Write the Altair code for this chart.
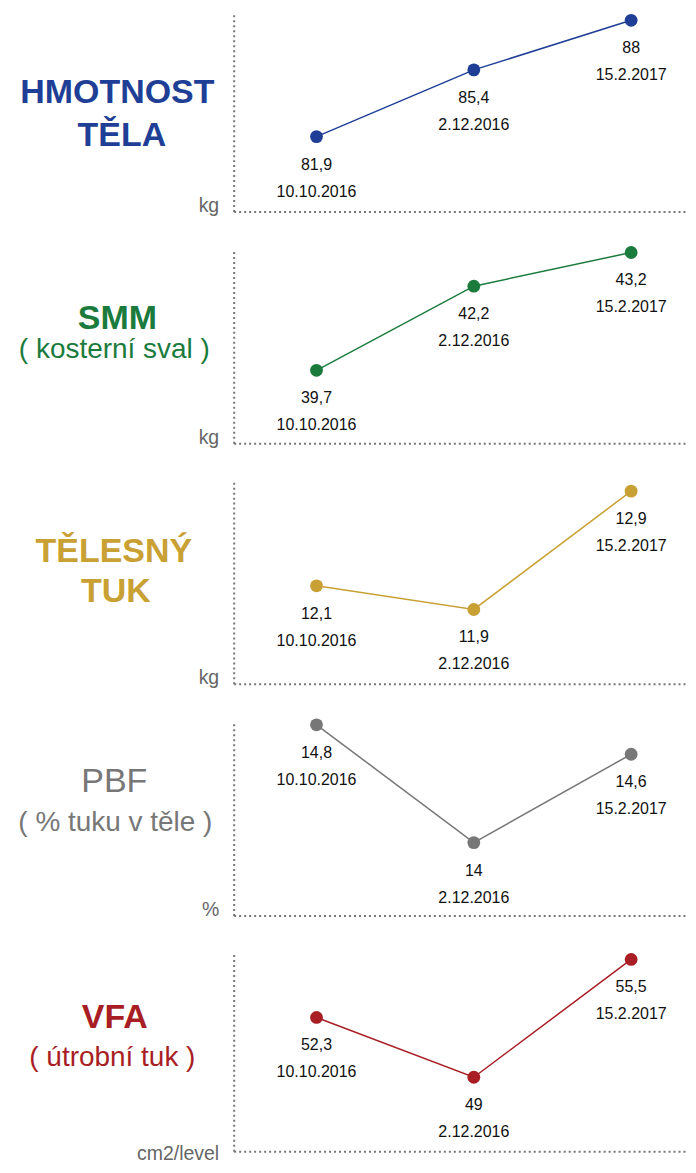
import altair as alt
import pandas as pd

# ---------------- data ----------------
dates = ["10.10.2016", "2.12.2016", "15.2.2017"]
hmotnost = [81.9, 85.4, 88.0]
smm = [39.7, 42.2, 43.2]
tuk = [12.1, 11.9, 12.9]
pbf = [14.8, 14.0, 14.6]
vfa = [52.3, 49.0, 55.5]

titles = [
    ["HMOTNOST", "TĚLA"],
    ["SMM", "( kosterní sval )"],
    ["TĚLESNÝ", "TUK"],
    ["PBF", "( % tuku v těle )"],
    ["VFA", "( útrobní tuk )"],
]
units = ["kg", "kg", "kg", "%", "cm2/level"]

# ---------------- styles ----------------
FONT = "Liberation Sans"
colors = ["#1f3f96", "#1b7b3d", "#c9a033", "#777777", "#a81e24"]
heights = [198, 195, 204, 195, 199]
domains = [
    [77.97, 88.34],
    [37.535, 43.319],
    [11.2713, 12.9928],
    [13.5051, 14.8271],
    [44.9236, 55.8856],
]
unit_y = [0, 0, 0, 0, 8]
# per-line title style: (x centre, baseline y, size, weight)
title_style = [
    [(-116.5, 89, 34, "bold"), (-112, 132, 34, "bold")],
    [(-116.5, 81, 34, "bold"), (-119.5, 110, 28, "normal")],
    [(-120, 82, 34, "bold"), (-118, 122, 34, "bold")],
    [(-119.5, 71, 34, "normal"), (-118.5, 110, 28, "normal")],
    [(-119, 76, 34, "bold"), (-121.5, 114, 28, "normal")],
]
AXIS_COLOR = "#777777"
DASH = [2, 3]
W = 455


def fmt(v):
    return f"{v:g}".replace(".", ",")


def panel(i, vals):
    color = colors[i]
    df = pd.DataFrame({"date": dates, "value": vals, "label": [fmt(v) for v in vals]})
    base = alt.Chart(df).encode(
        x=alt.X(
            "date:N",
            sort=dates,
            scale=alt.Scale(type="point", padding=0.444, align=0.593),
            axis=alt.Axis(
                labels=False, ticks=False, grid=False,
                domainColor=AXIS_COLOR, domainDash=DASH, domainWidth=2,
                title=units[i], titleAngle=0, titleAlign="right",
                titleBaseline="alphabetic", titleX=-15, titleY=unit_y[i],
                titleFont=FONT, titleFontSize=19.5, titleFontWeight="normal",
                titleColor="#666666",
            ),
        ),
        y=alt.Y(
            "value:Q",
            scale=alt.Scale(domain=domains[i], nice=False, zero=False),
            axis=alt.Axis(
                labels=False, ticks=False, grid=False, title=None,
                domainColor=AXIS_COLOR, domainDash=DASH, domainWidth=2,
            ),
        ),
    )
    line = base.mark_line(color=color, strokeWidth=1.5)
    pts = base.mark_circle(color=color, size=165, opacity=1)
    val = base.mark_text(
        dy=33, baseline="alphabetic", align="center", font=FONT, fontSize=16, color="#111111"
    ).encode(text="label:N")
    dt = base.mark_text(
        dy=60, baseline="alphabetic", align="center", font=FONT, fontSize=16, color="#111111"
    ).encode(text="date:N")

    tlayers = []
    for line_text, (tx, ty, ts, tw) in zip(titles[i], title_style[i]):
        tdf = pd.DataFrame({"t": [line_text]})
        tlayers.append(
            alt.Chart(tdf)
            .mark_text(
                align="center", baseline="alphabetic", font=FONT,
                fontSize=ts, fontWeight=tw, color=color,
            )
            .encode(x=alt.value(tx), y=alt.value(ty), text="t:N")
        )
    return alt.layer(line, pts, val, dt, *tlayers).properties(width=W, height=heights[i])


series = [hmotnost, smm, tuk, pbf, vfa]
panels = [panel(i, s) for i, s in enumerate(series)]

chart = (
    alt.vconcat(*panels, spacing=37, bounds="flush")
    .properties(
        padding={"left": 10, "top": 5, "right": 0, "bottom": 0},
        background="white",
    )
    .configure_view(strokeWidth=0, stroke="transparent")
)

chart.save("out.html", embed_options={"renderer": "svg", "actions": False})
